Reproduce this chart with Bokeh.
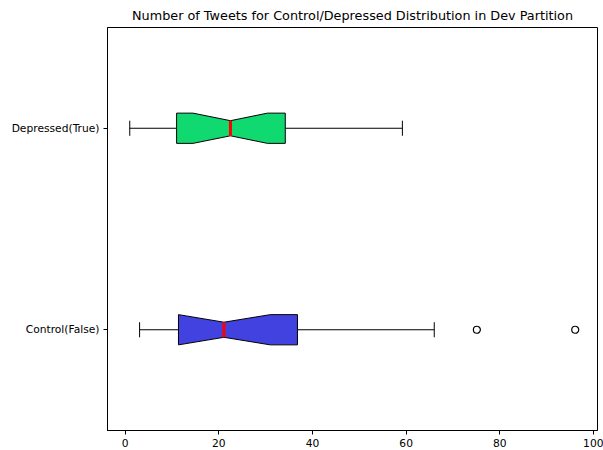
from bokeh.plotting import figure
from bokeh.models import Range1d, FixedTicker
from bokeh.embed import file_html
from bokeh.resources import INLINE

# Data (Number of Tweets)
categories = ["Control(False)", "Depressed(True)"]
positions = [1, 2]
whisker_lo = [3.1, 1.0]
q1 = [11.4, 11.0]
median = [21.1, 22.5]
q3 = [36.8, 34.2]
whisker_hi = [66.0, 59.2]
notch_lo = [11.4, 14.5]
notch_hi = [31.0, 30.4]
outlier_cat = [1, 1]
outlier_val = [75.1, 96.1]
colors = ["#4242E0", "#10D970"]

hw = 0.075  # half box width
cap = 0.0375

p = figure(width=603, height=450, output_backend="svg", toolbar_location=None,
           x_range=Range1d(-3.75, 100.85), y_range=Range1d(0.5, 2.5),
           title="Number of Tweets for Control/Depressed Distribution in Dev Partition")
p.min_border_left = 107
p.min_border_right = 6
p.min_border_top = 25
p.min_border_bottom = 20
p.title.align = "center"
p.title.text_font = "DejaVu Sans"
p.title.text_font_size = "12.8px"
p.title.text_font_style = "normal"
p.title.text_color = "black"
p.xgrid.visible = False
p.ygrid.visible = False
p.outline_line_color = "black"
p.outline_line_width = 1
p.background_fill_color = "white"
p.border_fill_color = "white"

for ax in (p.xaxis[0], p.yaxis[0]):
    ax.major_label_text_font = "DejaVu Sans"
    ax.major_label_text_font_size = "10.7px"
    ax.major_label_text_color = "black"
    ax.major_label_standoff = 4
    ax.major_tick_in = 0
    ax.major_tick_out = 4
    ax.minor_tick_out = 0
    ax.minor_tick_in = 0
    ax.axis_line_color = "black"
    ax.major_tick_line_color = "black"
p.xaxis.ticker = FixedTicker(ticks=[0, 20, 40, 60, 80, 100])
p.yaxis.ticker = FixedTicker(ticks=positions)
p.yaxis.major_label_overrides = {pos: c for pos, c in zip(positions, categories)}

# whiskers
p.segment(x0=q3, y0=positions, x1=whisker_hi, y1=positions, line_color="black", line_width=1)
p.segment(x0=whisker_lo, y0=positions, x1=q1, y1=positions, line_color="black", line_width=1)
# caps
p.segment(x0=whisker_lo, y0=[y - cap for y in positions], x1=whisker_lo,
          y1=[y + cap for y in positions], line_color="black", line_width=1)
p.segment(x0=whisker_hi, y0=[y - cap for y in positions], x1=whisker_hi,
          y1=[y + cap for y in positions], line_color="black", line_width=1)

# notched boxes
xs, ys = [], []
for i, y in enumerate(positions):
    xs.append([q1[i], notch_lo[i], median[i], notch_hi[i], q3[i],
               q3[i], notch_hi[i], median[i], notch_lo[i], q1[i]])
    ys.append([y - hw, y - hw, y - hw * 0.5, y - hw, y - hw,
               y + hw, y + hw, y + hw * 0.5, y + hw, y + hw])
p.patches(xs=xs, ys=ys, fill_color=colors, line_color="black", line_width=1)

# medians
p.segment(x0=median, y0=[y - hw * 0.5 for y in positions], x1=median,
          y1=[y + hw * 0.5 for y in positions], line_color="red", line_width=3)

# outliers
p.scatter(x=outlier_val, y=outlier_cat, size=7, fill_color=None, line_color="black", line_width=1.2)

open("out.html", "w").write(file_html(p, INLINE))
